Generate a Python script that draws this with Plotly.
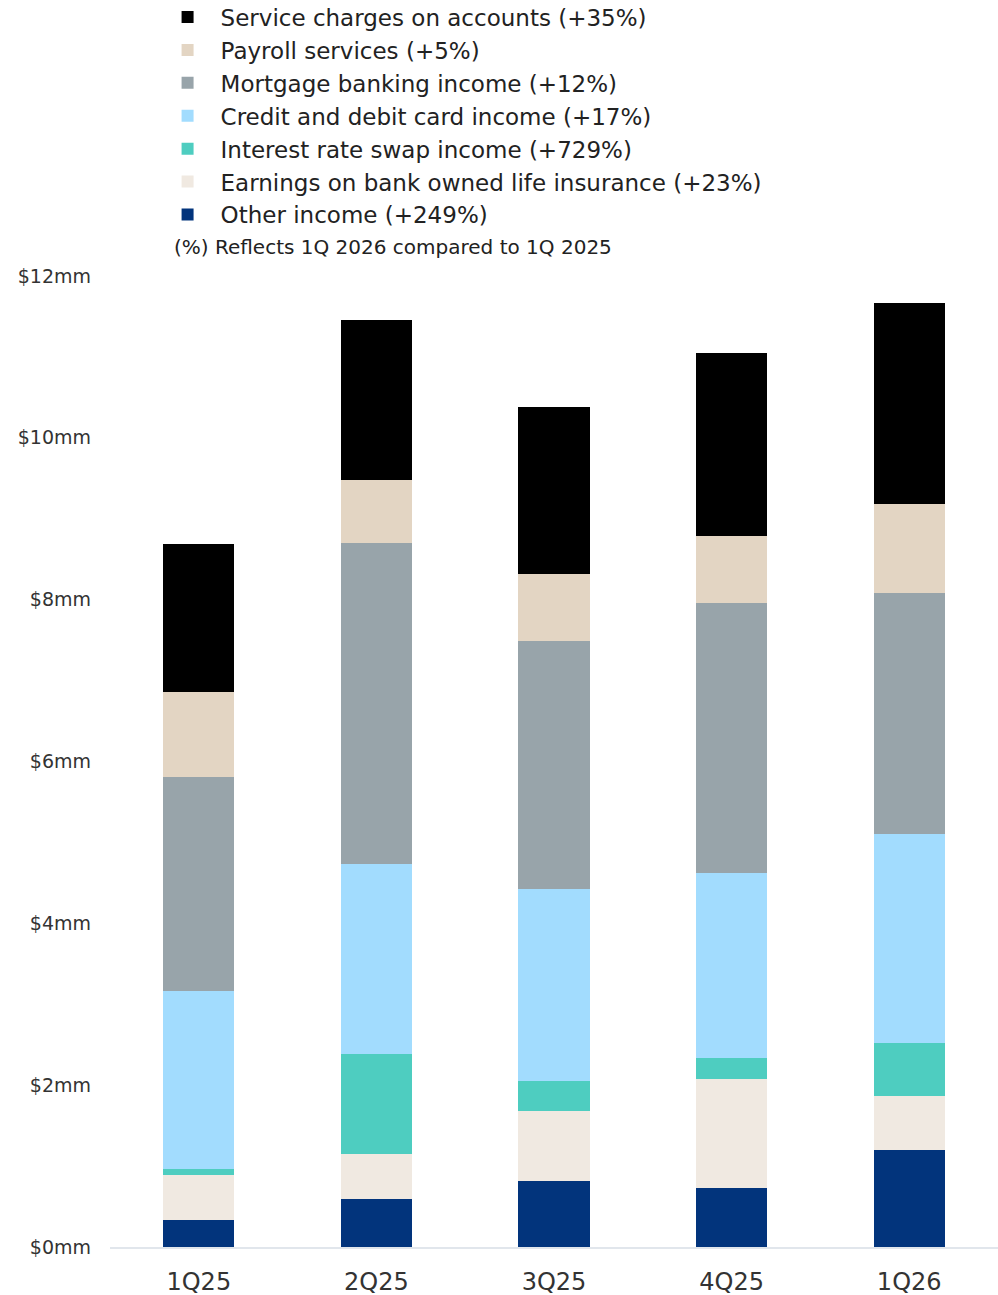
import plotly.graph_objects as go

quarters = ["1Q25", "2Q25", "3Q25", "4Q25", "1Q26"]

other_income = [0.33, 0.59, 0.82, 0.73, 1.20]
boli_earnings = [0.56, 0.56, 0.86, 1.35, 0.67]
swap_income = [0.07, 1.24, 0.37, 0.26, 0.65]
card_income = [2.20, 2.34, 2.37, 2.28, 2.58]
mortgage_income = [2.65, 3.97, 3.07, 3.34, 2.98]
payroll_services = [1.05, 0.78, 0.83, 0.83, 1.10]
service_charges = [1.83, 1.98, 2.06, 2.26, 2.49]

series = [
    ("Other income (+249%)", other_income, "#02347c"),
    ("Earnings on bank owned life insurance (+23%)", boli_earnings, "#f0e9e1"),
    ("Interest rate swap income (+729%)", swap_income, "#4ecdc0"),
    ("Credit and debit card income (+17%)", card_income, "#a2dcfe"),
    ("Mortgage banking income (+12%)", mortgage_income, "#98a4aa"),
    ("Payroll services (+5%)", payroll_services, "#e3d5c3"),
    ("Service charges on accounts (+35%)", service_charges, "#000000"),
]

y_ticks = [0, 2, 4, 6, 8, 10, 12]
y_tick_labels = ["$0mm", "$2mm", "$4mm", "$6mm", "$8mm", "$10mm", "$12mm"]

FONT = "DejaVu Sans"

fig = go.Figure()
for name, vals, color in series:
    fig.add_trace(go.Bar(
        x=quarters, y=vals, name=name,
        marker=dict(color=color, line=dict(width=0)),
    ))

fig.update_layout(
    width=998, height=1295,
    barmode="stack", bargap=0.6,
    plot_bgcolor="white", paper_bgcolor="white",
    margin=dict(l=110, r=0, t=276, b=48, autoexpand=False),
    font=dict(family=FONT, color="#333333"),
    showlegend=True,
    legend=dict(
        traceorder="reversed",
        x=0.0502, xanchor="left",
        y=1.2888, yref="paper", yanchor="top",
        font=dict(size=23, family=FONT, color="#222222"),
        bgcolor="rgba(0,0,0,0)",
        itemwidth=56,
        itemclick=False,
    ),
    xaxis=dict(
        showgrid=False, showline=True, linecolor="#e1e6ec", linewidth=2,
        ticks="", tickfont=dict(size=24, color="#333333"),
        ticklabelstandoff=12,
    ),
    yaxis=dict(
        range=[0, 12], tickvals=y_ticks, ticktext=y_tick_labels,
        showgrid=False, zeroline=False, showline=False, ticks="",
        tickfont=dict(size=19, color="#333333"),
        ticklabelstandoff=18,
    ),
    annotations=[dict(
        text="(%) Reflects 1Q 2026 compared to 1Q 2025",
        xref="paper", yref="paper", x=0.07, y=1.03, xanchor="left", yanchor="middle",
        showarrow=False, font=dict(size=20, family=FONT, color="#222222"),
    )],
)

fig.write_html("out.html")
